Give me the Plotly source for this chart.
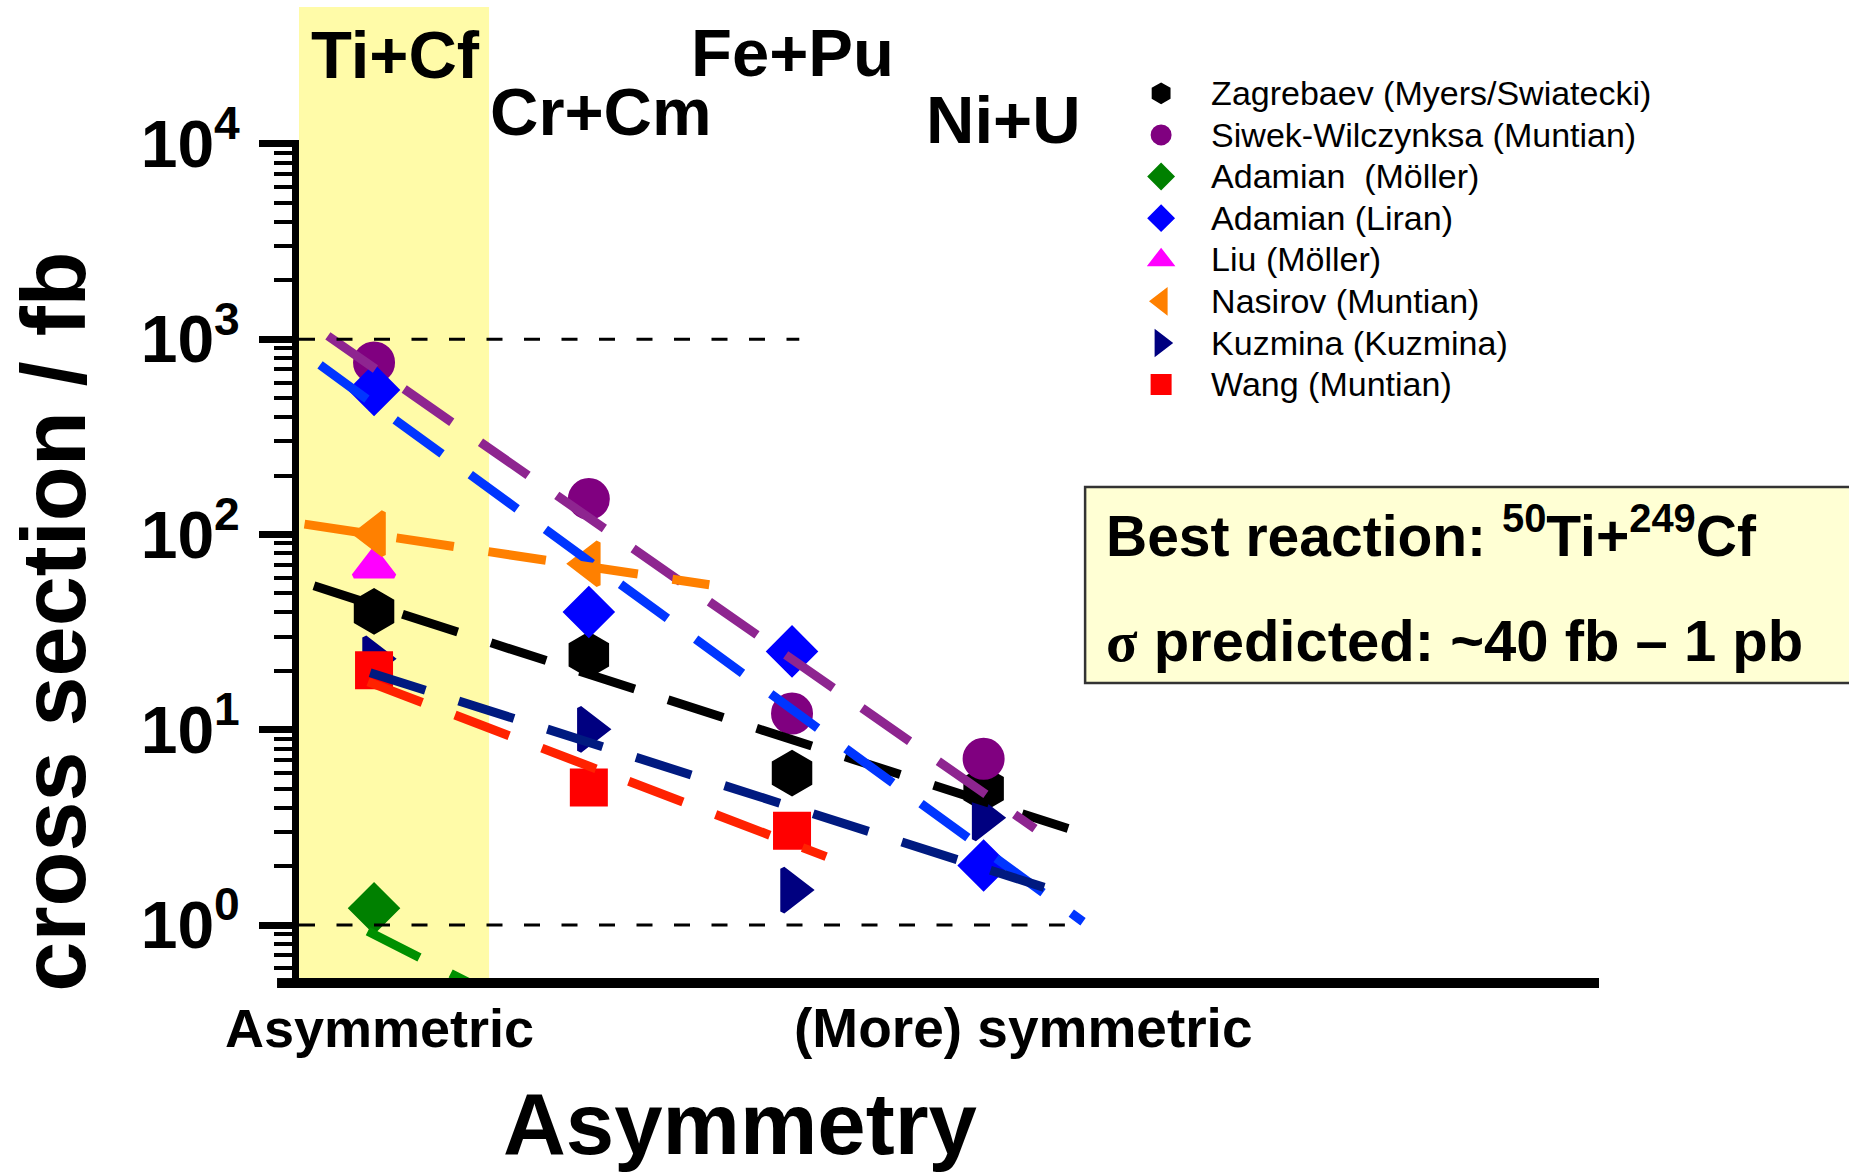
import plotly.graph_objects as go

# ---------------- data ----------------
reactions = ["Ti+Cf", "Cr+Cm", "Fe+Pu", "Ni+U"]
z1z2 = [2156, 2304, 2444, 2576]          # Z_projectile * Z_target (x position)

series_names = [
    "Zagrebaev (Myers/Swiatecki)",
    "Siwek-Wilczynksa (Muntian)",
    "Adamian\u00a0 (Möller)",
    "Adamian (Liran)",
    "Liu (Möller)",
    "Nasirov (Muntian)",
    "Kuzmina (Kuzmina)",
    "Wang (Muntian)",
]
zagrebaev      = [40.4, 24.2, 6.0, 5.0]
siwek          = [760, 152, 12.1, 7.1]
adamian_moller = [1.22, None, None, None]
adamian_liran  = [550, 40.1, 25.2, 2.02]
liu            = [68, None, None, None]
nasirov        = [101, 70.8, None, None]
kuzmina        = [23.1, 10.05, 1.51, 3.54]
wang           = [20.2, 5.06, 3.04, None]
series_values = [zagrebaev, siwek, adamian_moller, adamian_liran, liu, nasirov, kuzmina, wang]

# fitted trend lines (start / end)
fit_series  = ["Zagrebaev", "Siwek", "Adamian Möller", "Adamian Liran", "Nasirov", "Kuzmina", "Wang"]
fit_x_start = [2114.6, 2124.2, 2151.7, 2118.8, 2108.1, 2153.3, 2151.9]
fit_y_start = [54.6, 1040, 0.93, 738, 113, 19.6, 17.6]
fit_x_end   = [2634.2, 2611.4, 2233.2, 2644.5, 2387.0, 2617.7, 2467.5]
fit_y_end   = [3.12, 3.12, 0.457, 1.04, 55.3, 1.56, 2.24]

# horizontal guide levels
guide_levels = [1000, 1]
guide_x_end  = [2449, 2632]

y_tick_vals = [1, 10, 100, 1000, 10000]
y_tick_text = ["10<sup>0</sup>", "10<sup>1</sup>", "10<sup>2</sup>", "10<sup>3</sup>", "10<sup>4</sup>"]

# ---------------- styles ----------------
X_MIN, X_MAX = 2104.3, 3000
FONT = "Liberation Sans, Arial, sans-serif"
marker_symbols = ["hexagon", "circle", "diamond", "diamond", "triangle-up",
                  "triangle-left", "triangle-right", "square"]
marker_colors = ["#000000", "#800080", "#008000", "#0000FF", "#FF00FF",
                 "#FF8000", "#000080", "#FF0000"]
marker_sizes = [41, 37, 35, 35, 35, 37, 37, 33]
fit_colors = ["#000000", "#8E2590", "#009000", "#0035FF", "#FF8000", "#001A80", "#FF2200"]

fig = go.Figure()

for name, vals, sym, col, sz in zip(series_names, series_values, marker_symbols,
                                    marker_colors, marker_sizes):
    fig.add_trace(go.Scatter(
        x=z1z2, y=vals, mode="markers",
        name="<span style='font-size:34px'>" + name + "</span>",
        marker=dict(symbol=sym, color=col, size=sz,
                    line=dict(color=col, width=5)),
    ))

for x0, y0, x1, y1, col in zip(fit_x_start, fit_y_start, fit_x_end, fit_y_end, fit_colors):
    fig.add_trace(go.Scatter(
        x=[x0, x1], y=[y0, y1], mode="lines", showlegend=False,
        line=dict(color=col, width=9, dash="58px,35px"),
        hoverinfo="skip",
    ))

for lvl, xe in zip(guide_levels, guide_x_end):
    fig.add_trace(go.Scatter(
        x=[X_MIN, xe], y=[lvl, lvl], mode="lines", showlegend=False,
        line=dict(color="black", width=3, dash="16px,21.5px"),
        hoverinfo="skip",
    ))

minor_vals = [m * 10 ** e for e in range(-1, 4) for m in range(2, 10)]

fig.update_layout(
    width=1849, height=1172, autosize=False,
    margin=dict(l=299, r=250, t=140, b=193.5, pad=0),
    paper_bgcolor="white", plot_bgcolor="rgba(0,0,0,0)",
    showlegend=True,
    legend=dict(x=0.6247, y=1.0865, xanchor="left", yanchor="top",
                font=dict(family=FONT, size=29.7, color="black"),
                itemwidth=90, bgcolor="rgba(0,0,0,0)", borderwidth=0,
                tracegroupgap=0),
    xaxis=dict(range=[X_MIN, X_MAX], showline=True, linecolor="black", linewidth=10,
               showgrid=False, zeroline=False, ticks="", showticklabels=False),
    yaxis=dict(type="log", range=[-0.271, 4.02], showline=True, linecolor="black",
               linewidth=7, showgrid=False, zeroline=False,
               tickmode="array", tickvals=y_tick_vals, ticktext=y_tick_text,
               ticks="outside", ticklen=33, tickwidth=7, tickcolor="black",
               ticklabelstandoff=6,
               tickfont=dict(family=FONT, size=66, color="black", weight="bold"),
               minor=dict(tickmode="array", tickvals=minor_vals, ticks="outside",
                          ticklen=18, tickwidth=4, tickcolor="black", showgrid=False)),
)

shapes = [
    # highlighted Ti+Cf region
    dict(type="rect", xref="paper", yref="paper", x0=0, x1=0.1462, y0=0, y1=1.1586,
         fillcolor="#FFFBA8", line=dict(width=0), layer="below"),
    # x-axis line extension left of the y-axis
    dict(type="line", xref="paper", yref="paper", x0=-0.0169, x1=-0.004, y0=-0.006, y1=-0.006,
         line=dict(color="black", width=10)),
    # info box
    dict(type="rect", xref="paper", yref="paper", x0=0.6047, x1=1.3, y0=0.352, y1=0.5858,
         fillcolor="#FFFFD4", line=dict(color="#333333", width=2.5), layer="above"),
]
fig.update_layout(shapes=shapes)

annotations = []
label_shift = [21, 12, 0, 20]
label_y = [1.1025, 1.0345, 1.1045, 1.0245]
for r, x, dx, yy in zip(reactions, z1z2, label_shift, label_y):
    annotations.append(dict(text="<b>" + r + "</b>", xref="x", yref="paper", x=x, y=yy,
                            xshift=dx, xanchor="center", yanchor="middle", showarrow=False,
                            font=dict(family=FONT, size=67, color="black")))

annotations += [
    dict(text="<b>cross section / fb</b>", xref="paper", yref="paper", x=-0.1885, y=0.4252,
         textangle=-90, xanchor="center", yanchor="middle", showarrow=False,
         font=dict(family=FONT, size=90, color="black")),
    dict(text="<b>Asymmetry</b>", xref="paper", yref="paper", x=0.3393, y=-0.1735,
         xanchor="center", yanchor="middle", showarrow=False,
         font=dict(family=FONT, size=87, color="black")),
    dict(text="<b>Asymmetric</b>", xref="paper", yref="paper", x=0.0623, y=-0.0598,
         xanchor="center", yanchor="middle", showarrow=False,
         font=dict(family=FONT, size=54, color="black")),
    dict(text="<b>(More) symmetric</b>", xref="paper", yref="paper", x=0.557, y=-0.0598,
         xanchor="center", yanchor="middle", showarrow=False,
         font=dict(family=FONT, size=55, color="black")),
    dict(text="<b>Best reaction: <sup>50</sup>Ti+<sup>249</sup>Cf</b>", xref="paper", yref="paper",
         x=0.619, y=0.5328, xanchor="left", yanchor="middle", showarrow=False,
         font=dict(family=FONT, size=57, color="black")),
    dict(text="<b><span style='font-family:Liberation Serif'>σ</span> predicted: ~40 fb – 1 pb</b>",
         xref="paper", yref="paper", x=0.619, y=0.4017, xanchor="left", yanchor="middle",
         showarrow=False, font=dict(family=FONT, size=58, color="black")),
]
fig.update_layout(annotations=annotations)

fig.write_html(
    "out.html",
    config={"displayModeBar": False},
    post_script="document.body.style.margin='0';document.body.style.padding='0';"
                "document.body.style.overflow='hidden';",
)
